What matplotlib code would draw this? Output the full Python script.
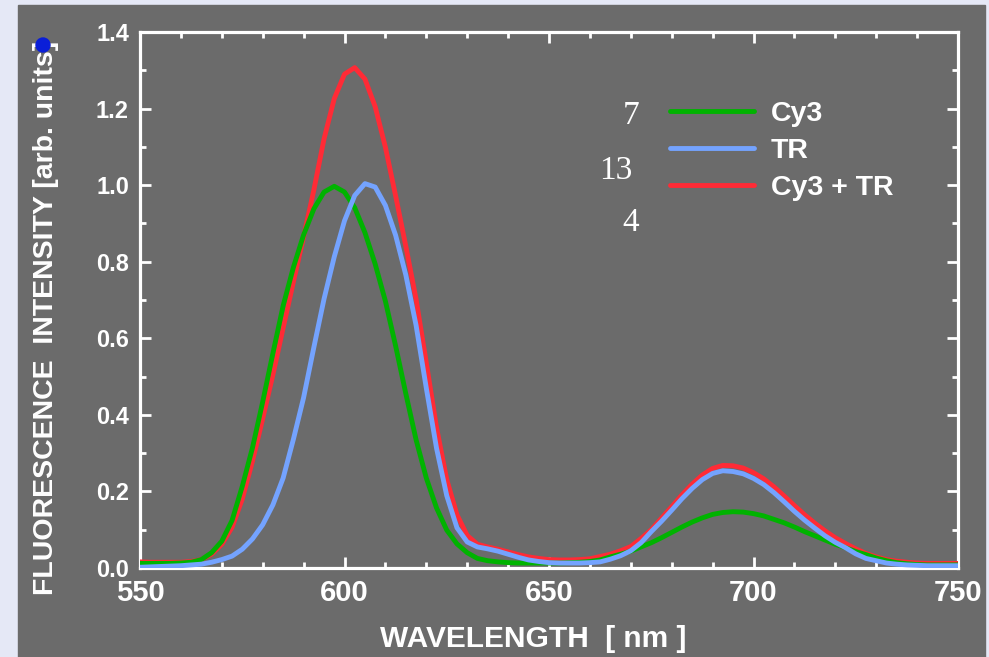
import numpy as np
import matplotlib
matplotlib.use("Agg")
import matplotlib.pyplot as plt
from matplotlib.patches import Rectangle, Ellipse
from matplotlib.ticker import MultipleLocator

plt.rcParams['font.family'] = ['Liberation Sans', 'DejaVu Sans']

# data: wavelength grid 550..750 nm every 2.5 nm
wavelength = np.arange(550, 750.1, 2.5)

cy3 = [0.012, 0.012, 0.012, 0.012, 0.013, 0.015, 0.022, 0.040, 0.070, 0.124,   # 550-572.5
       0.213, 0.314, 0.434, 0.561, 0.685, 0.785, 0.870, 0.938, 0.982, 0.997,   # 575-597.5
       0.982, 0.941, 0.876, 0.794, 0.697, 0.580, 0.455, 0.335, 0.235, 0.157,   # 600-622.5
       0.099, 0.063, 0.040, 0.025, 0.019, 0.016, 0.014, 0.013, 0.013, 0.013,   # 625-647.5
       0.013, 0.013, 0.014, 0.015, 0.017, 0.021, 0.029, 0.036, 0.044, 0.055,   # 650-672.5
       0.066, 0.079, 0.093, 0.107, 0.120, 0.131, 0.140, 0.145, 0.147, 0.146,   # 675-697.5
       0.142, 0.136, 0.127, 0.118, 0.107, 0.095, 0.084, 0.073, 0.062, 0.053,   # 700-722.5
       0.043, 0.035, 0.026, 0.019, 0.014, 0.011, 0.009, 0.008, 0.008, 0.008,   # 725-747.5
       0.008]

tr = [0.002, 0.003, 0.004, 0.005, 0.006, 0.008, 0.010, 0.015, 0.022, 0.031,
      0.049, 0.076, 0.113, 0.165, 0.235, 0.336, 0.445, 0.576, 0.703, 0.813,
      0.907, 0.973, 1.004, 0.995, 0.947, 0.869, 0.765, 0.634, 0.470, 0.313,
      0.189, 0.105, 0.068, 0.055, 0.050, 0.044, 0.036, 0.028, 0.021, 0.017,
      0.014, 0.013, 0.013, 0.013, 0.014, 0.016, 0.023, 0.032, 0.045, 0.066,
      0.095, 0.122, 0.151, 0.181, 0.208, 0.231, 0.247, 0.254, 0.252, 0.246,
      0.234, 0.218, 0.197, 0.173, 0.148, 0.125, 0.104, 0.084, 0.067, 0.053,
      0.037, 0.025, 0.019, 0.013, 0.010, 0.008, 0.007, 0.006, 0.006, 0.006,
      0.006]

cy3_tr = [0.016, 0.015, 0.015, 0.015, 0.015, 0.017, 0.022, 0.036, 0.062, 0.106,
          0.180, 0.279, 0.390, 0.505, 0.627, 0.747, 0.865, 0.987, 1.121, 1.226,
          1.290, 1.307, 1.277, 1.205, 1.099, 0.972, 0.840, 0.702, 0.536, 0.367,
          0.231, 0.139, 0.085, 0.062, 0.055, 0.049, 0.042, 0.035, 0.029, 0.025,
          0.022, 0.021, 0.021, 0.022, 0.024, 0.030, 0.036, 0.045, 0.056, 0.077,
          0.100, 0.130, 0.160, 0.191, 0.219, 0.243, 0.260, 0.268, 0.267, 0.261,
          0.249, 0.233, 0.212, 0.188, 0.163, 0.139, 0.117, 0.097, 0.079, 0.064,
          0.050, 0.038, 0.029, 0.022, 0.018, 0.015, 0.013, 0.012, 0.012, 0.012,
          0.012]

series_labels = ['Cy3', 'TR', 'Cy3 + TR']
side_numbers = ['7', '13', '4']

GRAY = '#6b6b6b'
green = '#00b300'
blue = '#74a3ff'
red = '#ff2b36'

W, H = 989, 657
fig = plt.figure(figsize=(W / 100, H / 100), dpi=100)
fig.patch.set_facecolor('#e5e8f6')
fig.add_artist(Rectangle((18 / W, 0), (985 - 18) / W, (H - 5) / H,
                         transform=fig.transFigure, color=GRAY, zorder=0))

ax = fig.add_axes([140 / W, (H - 568) / H, (958 - 140) / W, (568 - 32) / H])
ax.set_facecolor(GRAY)

# red underneath, then green, blue on top (as in the reference)
lw = 3.5
l3, = ax.plot(wavelength, cy3_tr, color=red, lw=lw, solid_capstyle='round', zorder=3)
l1, = ax.plot(wavelength, cy3, color=green, lw=lw, solid_capstyle='round', zorder=4)
l2, = ax.plot(wavelength, tr, color=blue, lw=lw, solid_capstyle='round', zorder=5)

ax.set_xlim(550, 750)
ax.set_ylim(0, 1.4)
ax.xaxis.set_major_locator(MultipleLocator(50))
ax.xaxis.set_minor_locator(MultipleLocator(10))
ax.yaxis.set_major_locator(MultipleLocator(0.2))
ax.yaxis.set_minor_locator(MultipleLocator(0.1))
ax.yaxis.set_major_formatter(plt.FuncFormatter(lambda v, p: f'{v:.1f}'))

for s in ax.spines.values():
    s.set_color('white')
    s.set_linewidth(2.3)
ax.tick_params(which='both', direction='in', top=True, right=True, color='white')
ax.tick_params(which='major', length=8, width=2)
ax.tick_params(which='minor', length=4.5, width=2)
ax.tick_params(axis='y', labelcolor='white', labelsize=17, pad=8)
ax.tick_params(axis='x', labelcolor='white', labelsize=21, pad=8)
for t in ax.get_xticklabels() + ax.get_yticklabels():
    t.set_fontweight('bold')

fig.text(533 / W, 1 - 639 / H, 'WAVELENGTH  [ nm ]', color='white', fontsize=21.5,
         fontweight='bold', ha='center', va='center')
fig.text(46 / W, 1 - 318 / H, 'FLUORESCENCE  INTENSITY [arb. units]', color='white',
         fontsize=20.5, fontweight='bold', ha='center', va='center', rotation=90)
fig.add_artist(Ellipse((43 / W, 1 - 45 / H), 14 / W, 14 / H, transform=fig.transFigure,
                       color='#0a1ed8', zorder=5))

leg = ax.legend([l1, l2, l3], series_labels, loc='upper left',
                bbox_to_anchor=((668 - 140) / (958 - 140) - 0.012, 1 - (90 - 32) / (568 - 32)),
                frameon=False, fontsize=20.5, handlelength=2.95, handletextpad=0.6,
                labelspacing=0.38, borderaxespad=0)
for t in leg.get_texts():
    t.set_color('white')
    t.set_fontweight('bold')
for h in leg.get_lines():
    h.set_linewidth(lw)

for txt, (px, py) in zip(side_numbers, [(631, 116), (616, 171), (631, 223)]):
    fig.text(px / W, 1 - py / H, txt, color='white', fontsize=24,
             family=['Liberation Serif', 'DejaVu Serif'], ha='center', va='center')

fig.savefig('out.png', dpi=100, facecolor=fig.get_facecolor())
